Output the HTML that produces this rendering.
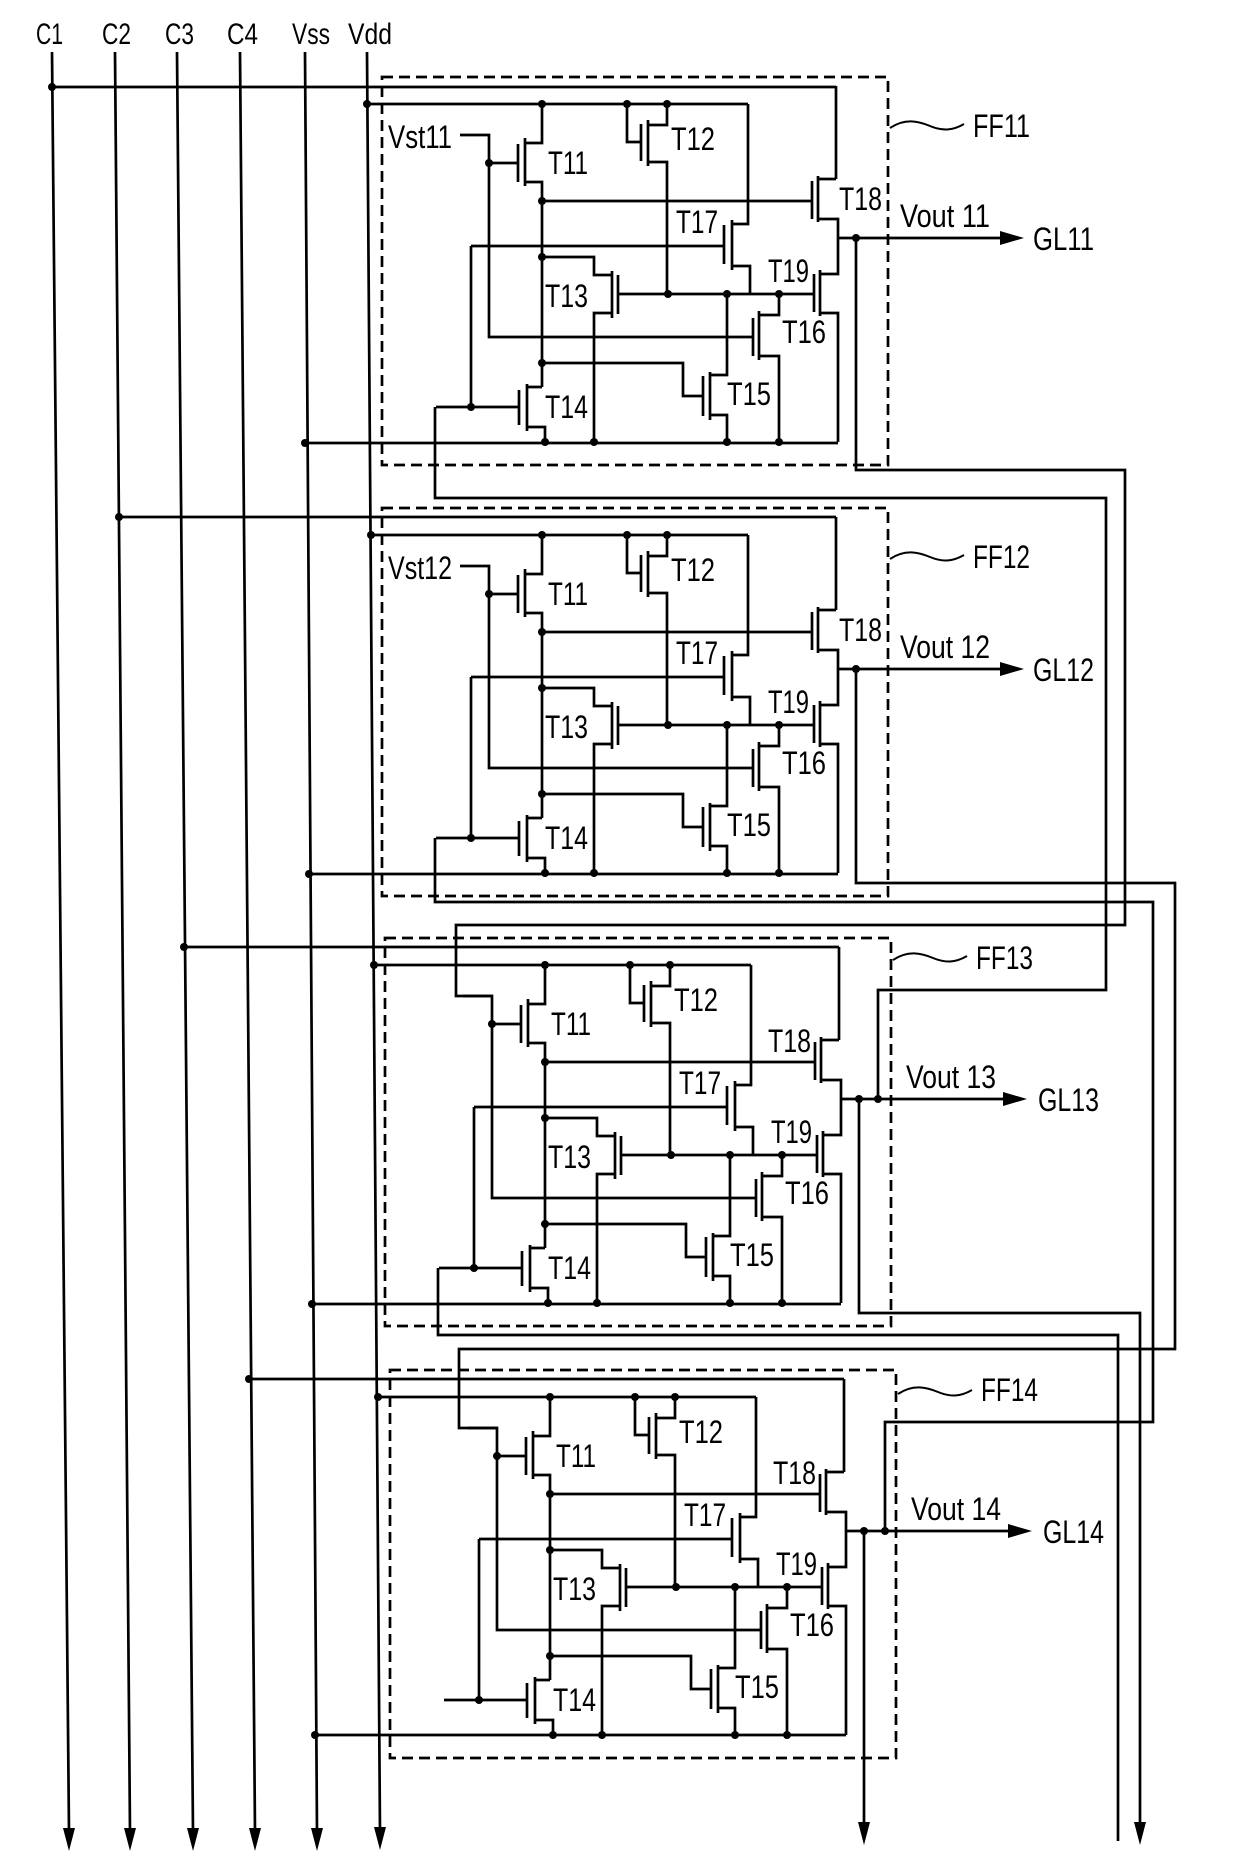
<!DOCTYPE html>
<html><head><meta charset="utf-8"><style>
html,body{margin:0;padding:0;background:#fff;}
svg{display:block;}
text{font-family:"Liberation Sans",sans-serif;fill:#000;}
</style></head><body>
<svg width="1240" height="1873" viewBox="0 0 1240 1873" xmlns="http://www.w3.org/2000/svg">
<defs>
<g id="ff" fill="none" stroke="#000" stroke-width="2.7">
<path d="M836 86V179"/>
<path d="M542 104V143H525M525 138V186M518 144V182M489 163H518M525 182H542V387"/>
<path d="M460 135H489V337H753"/>
<path d="M627 104V142H641M641 124V161M648 120V166M648 125H667V104M648 162H667V294"/>
<path d="M542 201H812M812 181V219M818 176V222M818 179H836M818 219H838V274H820M838 238H1002"/>
<path d="M820 270V316M814 274V312M820 313H838V442M618 294H814"/>
<path d="M748 104V224H732M732 220V270M724 225V264M471 246H724M732 266H750V294M471 246V407"/>
<path d="M542 257H594V275H612M612 271V318M618 275V314M612 313H594V442"/>
<path d="M779 294V315H759M759 311V360M753 318V356M759 356H779V442"/>
<path d="M544 363H683V396H703M703 376V416M710 372V420M710 375H727V294M710 415H727V442"/>
<path d="M542 387H527M527 384V431M519 390V425M436 407H519M527 427H545V442"/>
<rect x="382" y="77" width="506" height="388" stroke-dasharray="11 6"/>
<polygon points="1024,238 1000,231 1000,245" fill="#000" stroke="none"/>
<g fill="#000" stroke="none">
<circle cx="489" cy="163" r="4"/><circle cx="542" cy="104" r="4"/><circle cx="627" cy="104" r="4"/><circle cx="667" cy="104" r="4"/>
<circle cx="542" cy="201" r="4"/><circle cx="542" cy="257" r="4"/><circle cx="668" cy="294" r="4"/><circle cx="727" cy="294" r="4"/>
<circle cx="779" cy="294" r="4"/><circle cx="542" cy="363" r="4"/><circle cx="471" cy="407" r="4"/><circle cx="545" cy="442" r="4"/>
<circle cx="594" cy="442" r="4"/><circle cx="727" cy="442" r="4"/><circle cx="779" cy="442" r="4"/><circle cx="856" cy="238" r="4"/>
</g>
</g>
</defs>

<g font-size="30">
<text x="36" y="44" textLength="27" lengthAdjust="spacingAndGlyphs">C1</text>
<text x="102" y="44" textLength="29" lengthAdjust="spacingAndGlyphs">C2</text>
<text x="165" y="44" textLength="29" lengthAdjust="spacingAndGlyphs">C3</text>
<text x="227" y="44" textLength="31" lengthAdjust="spacingAndGlyphs">C4</text>
<text x="292" y="44" textLength="38" lengthAdjust="spacingAndGlyphs">Vss</text>
<text x="348" y="44" textLength="44" lengthAdjust="spacingAndGlyphs">Vdd</text>
</g>

<g stroke="#000" stroke-width="2.7" fill="none">
<path d="M52 52L69 1832M115 52L130 1832M177 52L193 1832M240 52L255 1832M305 52L317 1832M367 52L380 1832"/>
</g>
<g fill="#000">
<polygon points="69,1851 63,1828 75,1828"/>
<polygon points="130,1851 124,1828 136,1828"/>
<polygon points="193,1851 187,1828 199,1828"/>
<polygon points="255,1851 249,1828 261,1828"/>
<polygon points="317,1851 311,1828 323,1828"/>
<polygon points="380,1850 374,1827 386,1827"/>
</g>

<use href="#ff" transform="translate(0,0)"/>
<use href="#ff" transform="translate(0,431)"/>
<use href="#ff" transform="translate(3,861)"/>
<use href="#ff" transform="translate(8,1293)"/>

<g stroke="#000" stroke-width="2" fill="none">
<path d="M890 128C905 118 918 121 930 126S952 131 964 124"/>
<path d="M890 559C905 549 918 552 930 557S952 562 964 555"/>
<path d="M893 960C908 950 921 953 933 958S955 963 967 956"/>
<path d="M898 1394C913 1384 926 1387 938 1392S960 1397 972 1390"/>
</g>

<g stroke="#000" stroke-width="2.7" fill="none">
<path d="M52 87H836M367 104H748M305 443H838"/>
<path d="M119 517H836M371 535H748M309 874H838"/>
<path d="M184 947H839M374 965H751M312 1304H841"/>
<path d="M249 1379H844M378 1397H756M315 1735H846"/>
<path d="M856 238V470H1125V925H456V996H492"/>
<path d="M435 407V498H1106V990H878V1099"/>
<path d="M856 669V883H1175V1349H459V1428H497"/>
<path d="M435 838V902H1153V1422H885V1531"/>
<path d="M859 1099V1313H1140V1832"/>
<path d="M438 1268V1335H1118V1841"/>
<path d="M864 1531V1832"/>
</g>
<g fill="#000">
<circle cx="52" cy="87" r="4"/><circle cx="367" cy="104" r="4"/><circle cx="305" cy="443" r="4"/>
<circle cx="119" cy="517" r="4"/><circle cx="371" cy="535" r="4"/><circle cx="309" cy="874" r="4"/>
<circle cx="184" cy="947" r="4"/><circle cx="374" cy="965" r="4"/><circle cx="312" cy="1304" r="4"/>
<circle cx="249" cy="1379" r="4"/><circle cx="378" cy="1397" r="4"/><circle cx="315" cy="1735" r="4"/>
<circle cx="878" cy="1099" r="4"/><circle cx="885" cy="1531" r="4"/>
<polygon points="1140,1845 1134,1822 1146,1822"/>
<polygon points="864,1845 858,1822 870,1822"/>
</g>

<g font-size="32">
<text x="388" y="148" textLength="64" lengthAdjust="spacingAndGlyphs">Vst11</text>
<text x="548" y="174" textLength="40" lengthAdjust="spacingAndGlyphs">T11</text>
<text x="671" y="150" textLength="44" lengthAdjust="spacingAndGlyphs">T12</text>
<text x="839" y="210" textLength="43" lengthAdjust="spacingAndGlyphs">T18</text>
<text x="676" y="233" textLength="42" lengthAdjust="spacingAndGlyphs">T17</text>
<text x="768" y="282" textLength="41" lengthAdjust="spacingAndGlyphs">T19</text>
<text x="545" y="307" textLength="43" lengthAdjust="spacingAndGlyphs">T13</text>
<text x="782" y="343" textLength="44" lengthAdjust="spacingAndGlyphs">T16</text>
<text x="727" y="405" textLength="44" lengthAdjust="spacingAndGlyphs">T15</text>
<text x="545" y="418" textLength="43" lengthAdjust="spacingAndGlyphs">T14</text>
<text x="900" y="227" textLength="90" lengthAdjust="spacingAndGlyphs">Vout 11</text>
<text x="1033" y="250" textLength="61" lengthAdjust="spacingAndGlyphs">GL11</text>
<text x="973" y="137" textLength="57" lengthAdjust="spacingAndGlyphs">FF11</text>
</g>
<g font-size="32" transform="translate(0,431)">
<text x="388" y="148" textLength="64" lengthAdjust="spacingAndGlyphs">Vst12</text>
<text x="548" y="174" textLength="40" lengthAdjust="spacingAndGlyphs">T11</text>
<text x="671" y="150" textLength="44" lengthAdjust="spacingAndGlyphs">T12</text>
<text x="839" y="210" textLength="43" lengthAdjust="spacingAndGlyphs">T18</text>
<text x="676" y="233" textLength="42" lengthAdjust="spacingAndGlyphs">T17</text>
<text x="768" y="282" textLength="41" lengthAdjust="spacingAndGlyphs">T19</text>
<text x="545" y="307" textLength="43" lengthAdjust="spacingAndGlyphs">T13</text>
<text x="782" y="343" textLength="44" lengthAdjust="spacingAndGlyphs">T16</text>
<text x="727" y="405" textLength="44" lengthAdjust="spacingAndGlyphs">T15</text>
<text x="545" y="418" textLength="43" lengthAdjust="spacingAndGlyphs">T14</text>
<text x="900" y="227" textLength="90" lengthAdjust="spacingAndGlyphs">Vout 12</text>
<text x="1033" y="250" textLength="61" lengthAdjust="spacingAndGlyphs">GL12</text>
<text x="973" y="137" textLength="57" lengthAdjust="spacingAndGlyphs">FF12</text>
</g>
<g font-size="32" transform="translate(3,861)">
<text x="548" y="174" textLength="40" lengthAdjust="spacingAndGlyphs">T11</text>
<text x="671" y="150" textLength="44" lengthAdjust="spacingAndGlyphs">T12</text>
<text x="765" y="191" textLength="43" lengthAdjust="spacingAndGlyphs">T18</text>
<text x="676" y="233" textLength="42" lengthAdjust="spacingAndGlyphs">T17</text>
<text x="768" y="282" textLength="41" lengthAdjust="spacingAndGlyphs">T19</text>
<text x="545" y="307" textLength="43" lengthAdjust="spacingAndGlyphs">T13</text>
<text x="782" y="343" textLength="44" lengthAdjust="spacingAndGlyphs">T16</text>
<text x="727" y="405" textLength="44" lengthAdjust="spacingAndGlyphs">T15</text>
<text x="545" y="418" textLength="43" lengthAdjust="spacingAndGlyphs">T14</text>
<text x="903" y="227" textLength="90" lengthAdjust="spacingAndGlyphs">Vout 13</text>
<text x="1035" y="250" textLength="61" lengthAdjust="spacingAndGlyphs">GL13</text>
<text x="973" y="108" textLength="57" lengthAdjust="spacingAndGlyphs">FF13</text>
</g>
<g font-size="32" transform="translate(8,1293)">
<text x="548" y="174" textLength="40" lengthAdjust="spacingAndGlyphs">T11</text>
<text x="671" y="150" textLength="44" lengthAdjust="spacingAndGlyphs">T12</text>
<text x="765" y="191" textLength="43" lengthAdjust="spacingAndGlyphs">T18</text>
<text x="676" y="233" textLength="42" lengthAdjust="spacingAndGlyphs">T17</text>
<text x="768" y="282" textLength="41" lengthAdjust="spacingAndGlyphs">T19</text>
<text x="545" y="307" textLength="43" lengthAdjust="spacingAndGlyphs">T13</text>
<text x="782" y="343" textLength="44" lengthAdjust="spacingAndGlyphs">T16</text>
<text x="727" y="405" textLength="44" lengthAdjust="spacingAndGlyphs">T15</text>
<text x="545" y="418" textLength="43" lengthAdjust="spacingAndGlyphs">T14</text>
<text x="903" y="227" textLength="90" lengthAdjust="spacingAndGlyphs">Vout 14</text>
<text x="1035" y="250" textLength="61" lengthAdjust="spacingAndGlyphs">GL14</text>
<text x="973" y="108" textLength="57" lengthAdjust="spacingAndGlyphs">FF14</text>
</g>
</svg>
</body></html>
